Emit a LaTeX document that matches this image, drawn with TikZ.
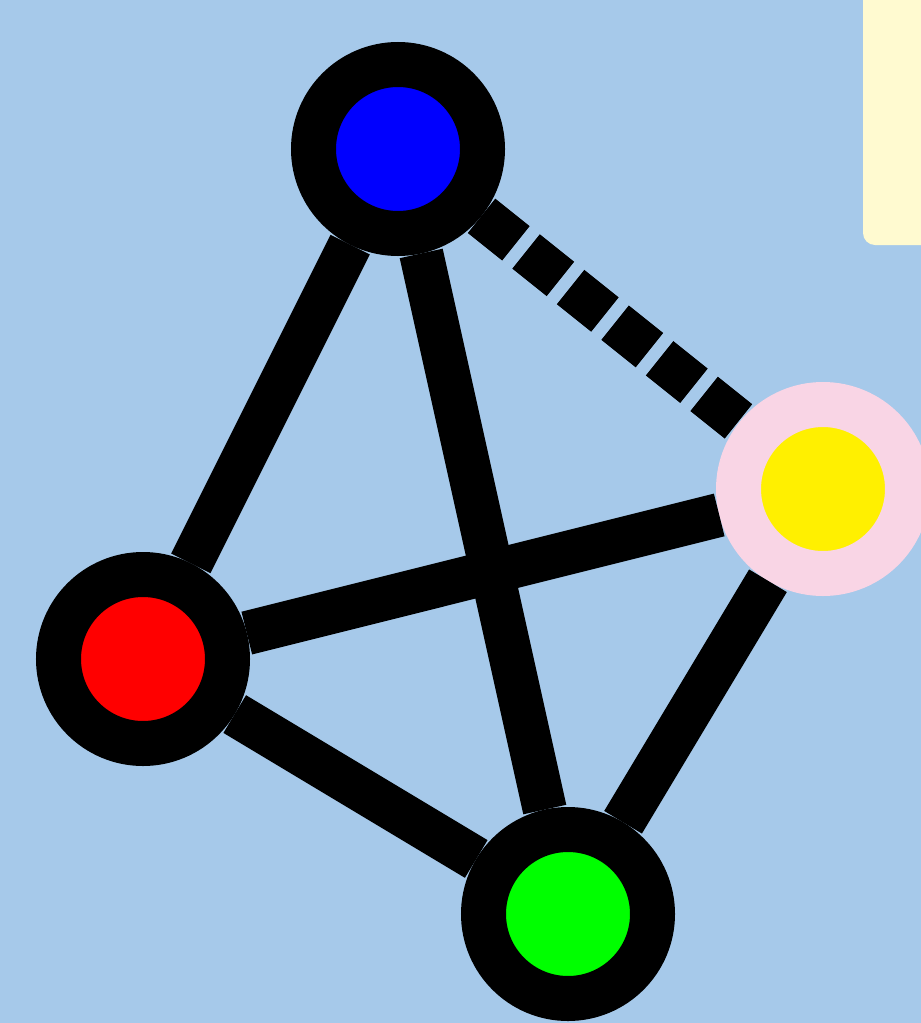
\documentclass[tikz,border=0pt]{standalone}
\definecolor{bgblue}{RGB}{166,201,234}
\definecolor{notey}{RGB}{255,250,208}
\definecolor{pinkring}{RGB}{249,213,229}
\definecolor{sun}{RGB}{255,240,0}
\begin{document}
\begin{tikzpicture}[x=0.5pt,y=-0.5pt,
  vtx/.style={circle,draw=black,line width=22.5pt,minimum size=84.5pt,inner sep=0pt},
  one/.style={line width=22pt},
  two/.style={dash pattern=on 22pt off 6.5pt,line width=22pt}]
  \fill[bgblue] (0,0) rectangle (921,1023);
  \useasboundingbox (0,0) rectangle (921,1023);
  \fill[notey,rounded corners=6pt] (863,-30) rectangle (960,245);
  \node[vtx,fill=blue] (nb) at (398,149) {};
  \node[vtx,fill=red] (nr) at (143,659) {};
  \node[vtx,fill=green] (ng) at (568,914) {};
  \node[vtx,draw=pinkring,fill=sun] (ny) at (823,489) {};
  \draw[one] (nb) -- (nr);
  \draw[one] (nb) -- (ng);
  \draw[two] (nb) -- (ny);
  \draw[one] (nr) -- (ny);
  \draw[one] (nr) -- (ng);
  \draw[one] (ny) -- (ng);
\end{tikzpicture}
\end{document}
